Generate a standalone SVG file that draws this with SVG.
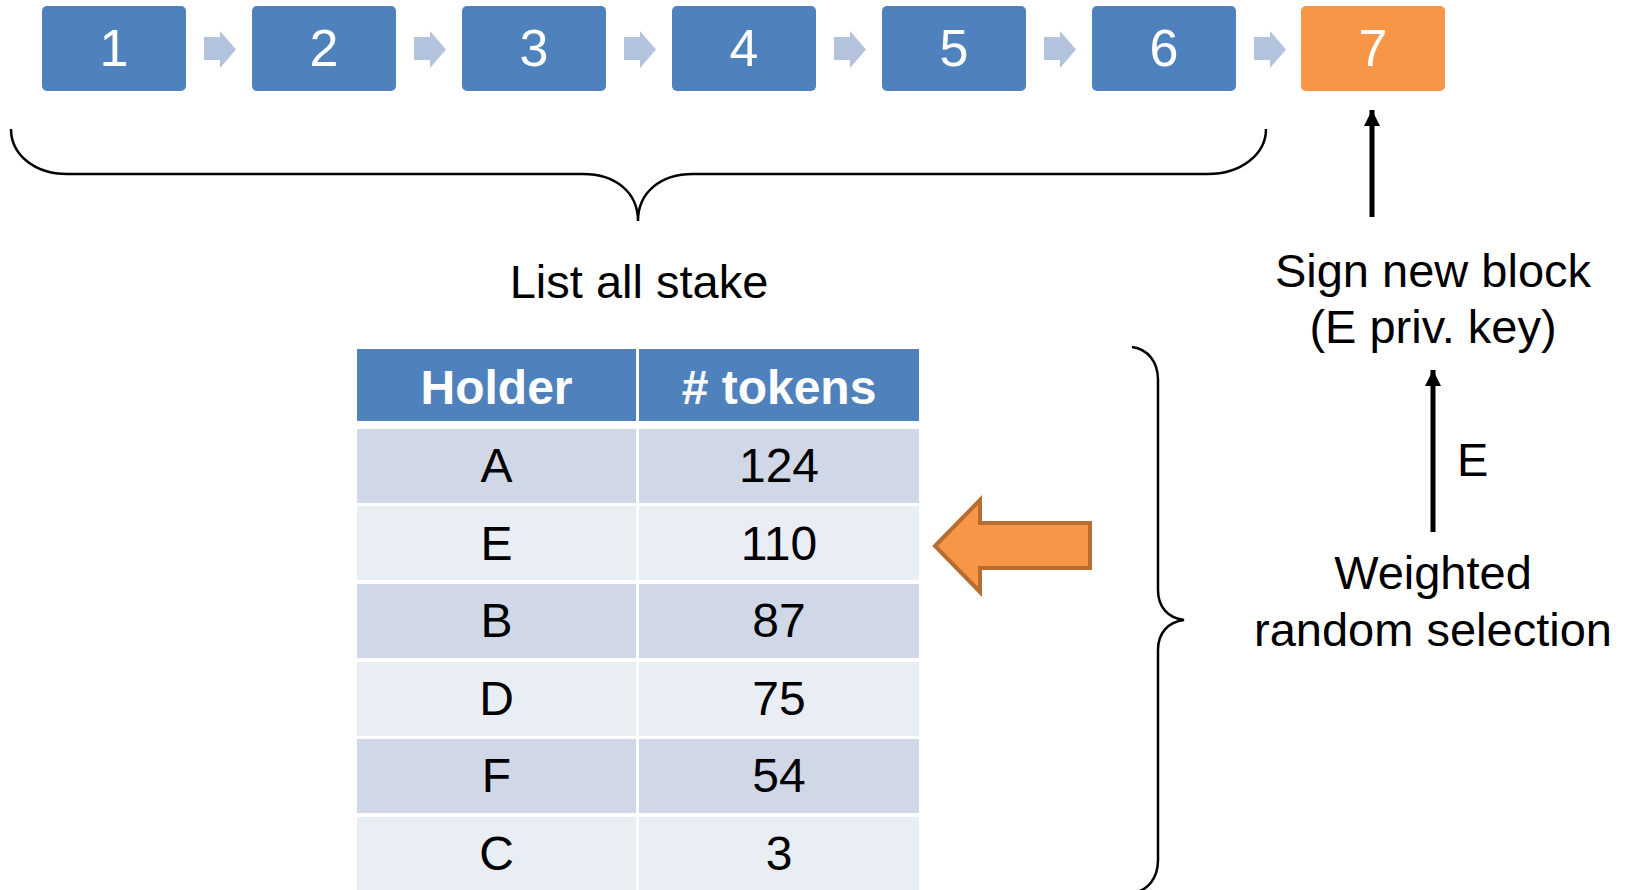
<svg xmlns="http://www.w3.org/2000/svg" width="1629" height="890" viewBox="0 0 1629 890">
<style>
text{font-family:"Liberation Sans",Arial,sans-serif;}
.blk{fill:#4F81BD;}
.blk7{fill:#F79646;}
.bt{fill:#fff;font-size:52px;text-anchor:middle;}
.chev{fill:#B3C3DE;}
.lbl{fill:#000;font-size:47px;text-anchor:middle;}
.hd{fill:#4F81BD;}
.ht{fill:#fff;font-size:48px;font-weight:bold;text-anchor:middle;}
.r1{fill:#D0D8E8;}
.r2{fill:#E9EDF4;}
.ct{fill:#000;font-size:48px;text-anchor:middle;}
.brace{fill:none;stroke:#000;stroke-width:2.5;}
.conn{stroke:#000;stroke-width:5;fill:none;}
</style>
<defs>
<marker id="ah" markerUnits="userSpaceOnUse" markerWidth="16" markerHeight="18" refX="16" refY="8" orient="auto">
<path d="M0,0 L16,8 L0,16 Z" fill="#000"/>
</marker>
</defs>
<rect width="1629" height="890" fill="#fff"/>

<g id="block1"><rect class="blk" x="42" y="6" width="144" height="85" rx="5"/><text class="bt" x="114" y="66">1</text></g>
<g id="block2"><rect class="blk" x="252" y="6" width="144" height="85" rx="5"/><text class="bt" x="324" y="66">2</text></g>
<g id="block3"><rect class="blk" x="462" y="6" width="144" height="85" rx="5"/><text class="bt" x="534" y="66">3</text></g>
<g id="block4"><rect class="blk" x="672" y="6" width="144" height="85" rx="5"/><text class="bt" x="744" y="66">4</text></g>
<g id="block5"><rect class="blk" x="882" y="6" width="144" height="85" rx="5"/><text class="bt" x="954" y="66">5</text></g>
<g id="block6"><rect class="blk" x="1092" y="6" width="144" height="85" rx="5"/><text class="bt" x="1164" y="66">6</text></g>
<g id="block7"><rect class="blk7" x="1301" y="6" width="144" height="85" rx="5"/><text class="bt" x="1373" y="66">7</text></g>

<g id="connectors">
<polygon class="chev" points="204,37 220,37 220,31 236,49.5 220,68 220,60 204,60"/>
<polygon class="chev" points="414,37 430,37 430,31 446,49.5 430,68 430,60 414,60"/>
<polygon class="chev" points="624,37 640,37 640,31 656,49.5 640,68 640,60 624,60"/>
<polygon class="chev" points="834,37 850,37 850,31 866,49.5 850,68 850,60 834,60"/>
<polygon class="chev" points="1044,37 1060,37 1060,31 1076,49.5 1060,68 1060,60 1044,60"/>
<polygon class="chev" points="1254,37 1270,37 1270,31 1286,49.5 1270,68 1270,60 1254,60"/>
<line class="conn" x1="1372" y1="217" x2="1372" y2="110" marker-end="url(#ah)"/>
<line class="conn" x1="1433" y1="532" x2="1433" y2="370" marker-end="url(#ah)"/>
<polygon points="935,546 980,500 980,523 1090,523 1090,568 980,568 980,592" fill="#F79646" stroke="#B66D31" stroke-width="4"/>
</g>

<g id="brace-top">
<path class="brace" d="M11,129 C11,155 35,174 67,174 L583,174 C615,174 638,192 638,221 C638,192 661,174 693,174 L1208,174 C1240,174 1266,155 1266,129"/>
</g>
<g id="brace-right">
<path class="brace" d="M1132,347 C1148,349 1158,362 1158,380 L1158,590 C1158,607 1168,618 1184,620 C1168,622 1158,633 1158,650 L1158,860 C1158,878 1148,891 1132,893"/>
</g>

<g id="label-list"><text class="lbl" x="639" y="298">List all stake</text></g>
<g id="label-sign"><text class="lbl" x="1433" y="287">Sign new block</text><text class="lbl" x="1433" y="343">(E priv. key)</text></g>
<g id="label-e"><text class="lbl" x="1457" y="476" style="text-anchor:start">E</text></g>
<g id="label-weighted"><text class="lbl" x="1433" y="589">Weighted</text><text class="lbl" x="1433" y="646">random selection</text></g>

<g id="table">
<rect class="hd" x="357" y="349" width="279" height="72"/>
<rect class="hd" x="639" y="349" width="280" height="72"/>
<text class="ht" x="496.5" y="404">Holder</text>
<text class="ht" x="779" y="404"># tokens</text>

<rect class="r1" x="357" y="429" width="279" height="74"/><rect class="r1" x="639" y="429" width="280" height="74"/>
<text class="ct" x="496.5" y="482">A</text><text class="ct" x="779" y="482">124</text>

<rect class="r2" x="357" y="506" width="279" height="74"/><rect class="r2" x="639" y="506" width="280" height="74"/>
<text class="ct" x="496.5" y="560">E</text><text class="ct" x="779" y="560">110</text>

<rect class="r1" x="357" y="584" width="279" height="74"/><rect class="r1" x="639" y="584" width="280" height="74"/>
<text class="ct" x="496.5" y="637">B</text><text class="ct" x="779" y="637">87</text>

<rect class="r2" x="357" y="662" width="279" height="74"/><rect class="r2" x="639" y="662" width="280" height="74"/>
<text class="ct" x="496.5" y="715">D</text><text class="ct" x="779" y="715">75</text>

<rect class="r1" x="357" y="739" width="279" height="74"/><rect class="r1" x="639" y="739" width="280" height="74"/>
<text class="ct" x="496.5" y="792">F</text><text class="ct" x="779" y="792">54</text>

<rect class="r2" x="357" y="817" width="279" height="74"/><rect class="r2" x="639" y="817" width="280" height="74"/>
<text class="ct" x="496.5" y="870">C</text><text class="ct" x="779" y="870">3</text>
</g>
</svg>
